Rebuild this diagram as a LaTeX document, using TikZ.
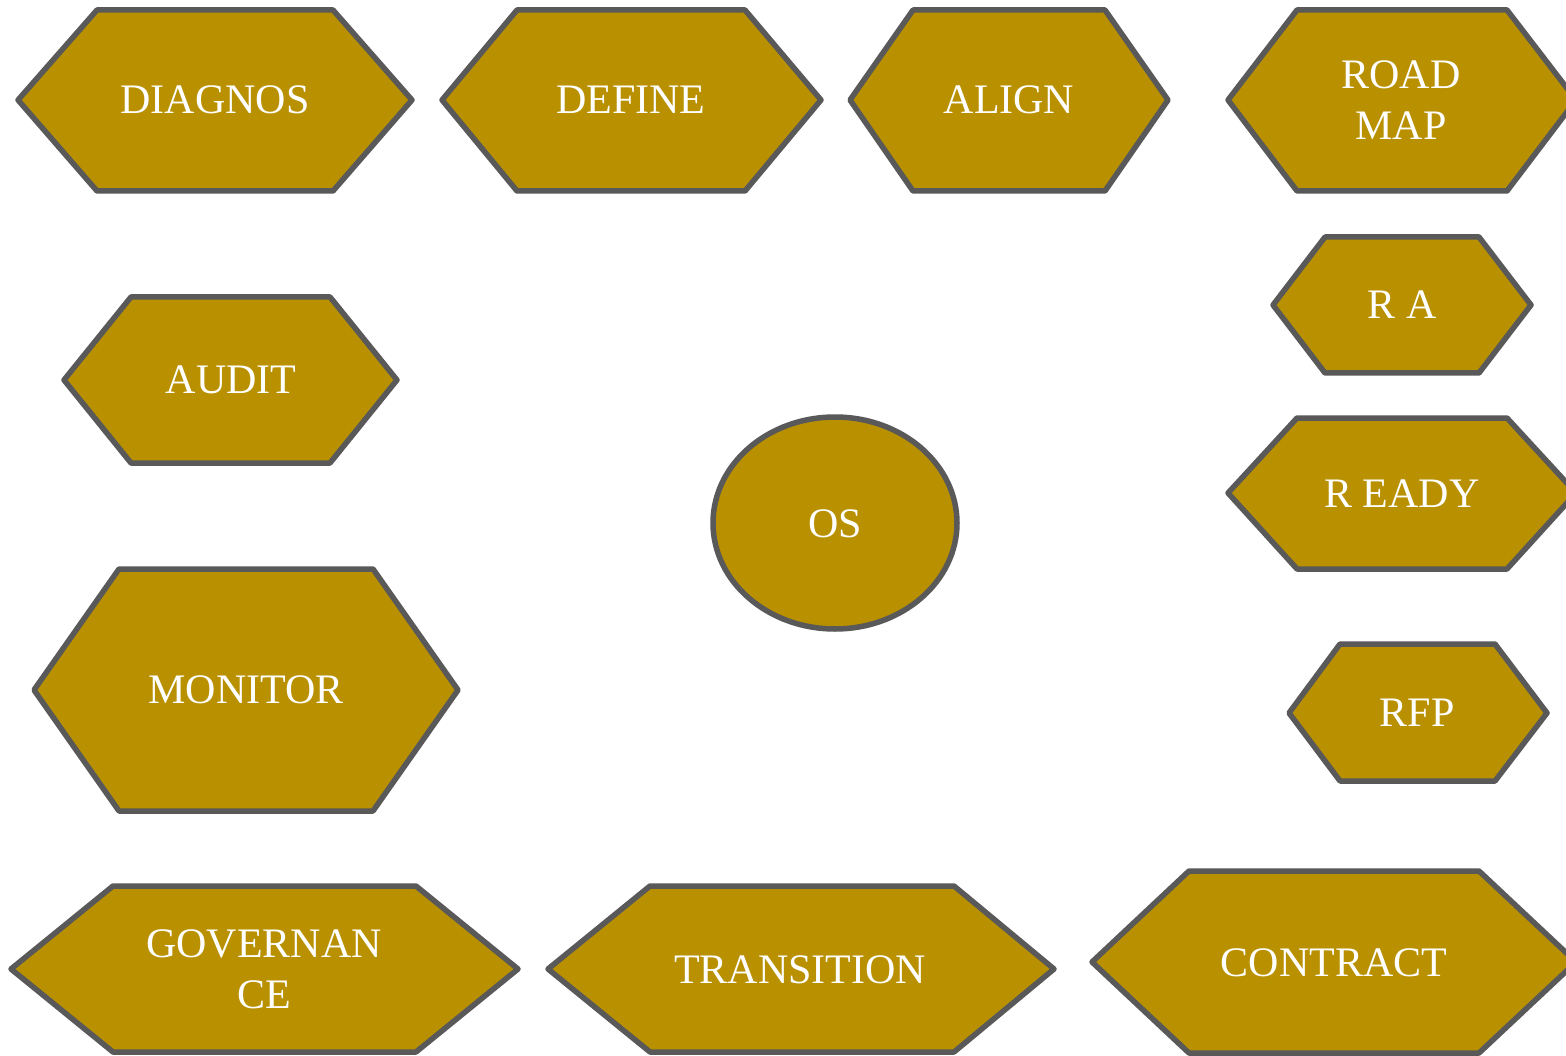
\documentclass[tikz,border=0pt]{standalone}
\usepackage{fontspec}
\setmainfont{Liberation Serif}
\definecolor{gold}{RGB}{184,144,0}
\definecolor{edge}{RGB}{89,89,89}
\tikzset{
  shapebox/.style={fill=gold,draw=edge,line width=5.5pt,line join=round},
  lbl/.style={text=white,font=\fontsize{42}{51}\selectfont,align=center,inner sep=0pt}
}
% left-x, top-left-x, top-right-x, right-x, top-y, mid-y, bottom-y
\newcommand\hexpoly[7]{%
  \draw[shapebox] (#1,#6) -- (#2,#5) -- (#3,#5) -- (#4,#6) -- (#3,#7) -- (#2,#7) -- cycle;}
\begin{document}
\begin{tikzpicture}[x=1pt,y=-1pt]
\useasboundingbox (0,0) rectangle (1566,1056);
\fill[white] (0,0) rectangle (1566,1056);
\clip (0,0) rectangle (1566,1056);
\hexpoly{18}{97}{333}{412}{10}{100}{191}
\hexpoly{442}{517}{745}{821}{10}{100}{191}
\hexpoly{850}{913}{1105}{1168}{10}{100}{191}
\hexpoly{1228}{1297}{1507}{1576}{10}{100}{191}
\hexpoly{1273}{1325}{1479}{1531}{237}{305}{373}
\hexpoly{64}{131}{330}{397}{297}{380}{463}
\draw[shapebox] (835,523) ellipse [x radius=122, y radius=106];
\hexpoly{1228}{1297}{1507}{1576}{418}{493}{569}
\hexpoly{34}{119}{373}{458}{569}{690}{811}
\hexpoly{1289}{1340}{1495}{1547}{644}{713}{781}
\hexpoly{11}{113}{416}{518}{886}{969}{1052}
\hexpoly{548}{650}{954}{1054}{886}{969}{1052}
\hexpoly{1092}{1189}{1479}{1576}{871}{962}{1053}
\node[lbl] (diag) at (215,100) {DIAGNOS};
\node[lbl] (def) at (631,100) {DEFINE};
\node[lbl] (align) at (1009,100) {ALIGN};
\node[lbl] (road) at (1401,100) {ROAD\\MAP};
\node[lbl] (ra) at (1402,305) {R A};
\node[lbl] (audit) at (231,380) {AUDIT};
\node[lbl] (os) at (835,524) {OS};
\node[lbl] (ready) at (1402,494) {R EADY};
\node[lbl] (mon) at (246,690) {MONITOR};
\node[lbl] (rfp) at (1417,713) {RFP};
\node[lbl] (gov) at (264,969) {GOVERNAN\\CE};
\node[lbl] (trans) at (800,970) {TRANSITION};
\node[lbl] (contract) at (1334,963) {CONTRACT};
\end{tikzpicture}
\end{document}
